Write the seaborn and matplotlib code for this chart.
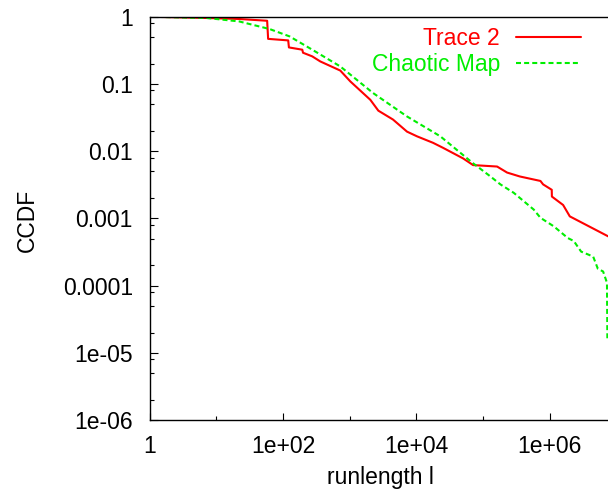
import matplotlib
matplotlib.use("Agg")
import matplotlib.pyplot as plt
from matplotlib.ticker import FixedLocator, FixedFormatter, NullFormatter
import numpy as np
import pandas as pd
import seaborn as sns

# Empirical CCDF of run lengths in the measured trace
trace2_len = [1, 7.2, 22, 58, 60, 120, 123, 195, 200, 275, 363, 724, 1023, 2042,
              2692, 4467, 7244, 10233, 17783, 25119, 50119, 70795, 162181, 229087,
              354813, 724436, 794328, 1070000, 1075000, 1584893, 1995262, 7500000]
trace2_ccdf = [1, 0.957, 0.925, 0.87, 0.468, 0.444, 0.349, 0.323, 0.291, 0.257,
               0.216, 0.158, 0.109, 0.058, 0.040, 0.0295, 0.0195, 0.0166, 0.0133,
               0.0112, 0.0078, 0.0062, 0.0059, 0.0048, 0.0042, 0.0036, 0.0032,
               0.00266, 0.00211, 0.00158, 0.00107, 0.00054]

# CCDF of run lengths produced by the chaotic map model
chaotic_len = [1, 7.2, 22, 63, 126, 275, 724, 2240, 7244, 22900, 70800, 129000,
               182000, 288000, 575000, 724000, 1150000, 1860000, 2290000, 2950000,
               4470000, 5250000, 6300000, 7200000, 7300000]
chaotic_ccdf = [1, 0.957, 0.851, 0.656, 0.509, 0.323, 0.182, 0.0733, 0.0328,
                0.0166, 0.0066, 0.0042, 0.0032, 0.0024, 0.00135, 0.00102, 0.00076,
                0.00051, 0.00046, 0.00032, 0.00027, 0.000178, 0.000162, 0.00011,
                1.5e-5]

series_names = ["Trace 2", "Chaotic Map"]
x_ticks = [1, 1e2, 1e4, 1e6]
x_tick_labels = ["1", "1e+02", "1e+04", "1e+06"]
x_minor_ticks = [10, 1e3, 1e5, 1e7]
y_ticks = [1, 0.1, 0.01, 0.001, 0.0001, 1e-5, 1e-6]
y_tick_labels = ["1", "0.1", "0.01", "0.001", "0.0001", "1e-05", "1e-06"]

FS = 16.5

sns.set_style("white")
plt.rcParams["font.family"] = ["Liberation Sans", "DejaVu Sans"]
plt.rcParams["font.size"] = FS
plt.rcParams["text.color"] = "black"
plt.rcParams["axes.labelcolor"] = "black"
plt.rcParams["xtick.color"] = "black"
plt.rcParams["ytick.color"] = "black"

W, H = 608, 491
fig = plt.figure(figsize=(W / 100, H / 100), dpi=100)
# x axis runs from 1 to 1e7; the right end lies just past the canvas edge
ax = fig.add_axes([149.5 / W, 1 - 420 / H, 467 / W, 403.3 / H])

df1 = pd.DataFrame({"l": trace2_len, "ccdf": trace2_ccdf})
df2 = pd.DataFrame({"l": chaotic_len, "ccdf": chaotic_ccdf})

sns.lineplot(data=df1, x="l", y="ccdf", ax=ax, color="#ff0000", lw=1.5,
             estimator=None, sort=False, label=series_names[0])
sns.lineplot(data=df2, x="l", y="ccdf", ax=ax, color="#00ee00", lw=1.5,
             linestyle=(0, (2.4, 1.5)), estimator=None, sort=False,
             label=series_names[1])

ax.set_xscale("log")
ax.set_yscale("log")
ax.set_xlim(1, 1e7)
ax.set_ylim(1e-6, 1)

ax.xaxis.set_major_locator(FixedLocator(x_ticks))
ax.xaxis.set_major_formatter(FixedFormatter(x_tick_labels))
ax.xaxis.set_minor_locator(FixedLocator(x_minor_ticks))
ax.xaxis.set_minor_formatter(NullFormatter())

y_minor = [m * d for d in y_ticks[1:] for m in (2, 5, 8)]
ax.yaxis.set_major_locator(FixedLocator(y_ticks))
ax.yaxis.set_major_formatter(FixedFormatter(y_tick_labels))
ax.yaxis.set_minor_locator(FixedLocator(y_minor))
ax.yaxis.set_minor_formatter(NullFormatter())

ax.tick_params(axis="x", which="major", direction="in", length=5.3, width=0.8,
               pad=11, labelsize=FS, bottom=True, top=False)
ax.tick_params(axis="x", which="minor", direction="in", length=2.9, width=0.8,
               bottom=True, top=False)
ax.tick_params(axis="y", which="major", direction="in", length=5.6, width=0.8,
               pad=12, labelsize=FS, left=True, right=False)
ax.tick_params(axis="y", which="minor", direction="in", length=2.9, width=0.8,
               left=True, right=False)

for side in ["left", "bottom", "top"]:
    ax.spines[side].set_visible(True)
    ax.spines[side].set_color("black")
    ax.spines[side].set_linewidth(1.0)
ax.spines["right"].set_visible(False)

ax.set_xlabel("runlength l", fontsize=FS)
ax.set_ylabel("CCDF", fontsize=FS)
ax.xaxis.set_label_coords((380 - 149.5) / 467, (420 - 466) / 403.3)
ax.yaxis.set_label_coords((39 - 149.5) / 467, (420 - 220) / 403.3)

leg = ax.legend(loc="upper right", bbox_to_anchor=(581 / W, 1 - 27 / H),
                bbox_transform=fig.transFigure, frameon=False, markerfirst=False,
                handlelength=2.85, handletextpad=0.69, labelspacing=0.12,
                borderpad=0, borderaxespad=0, fontsize=FS, labelcolor="linecolor")

fig.savefig("out.png", dpi=100)
